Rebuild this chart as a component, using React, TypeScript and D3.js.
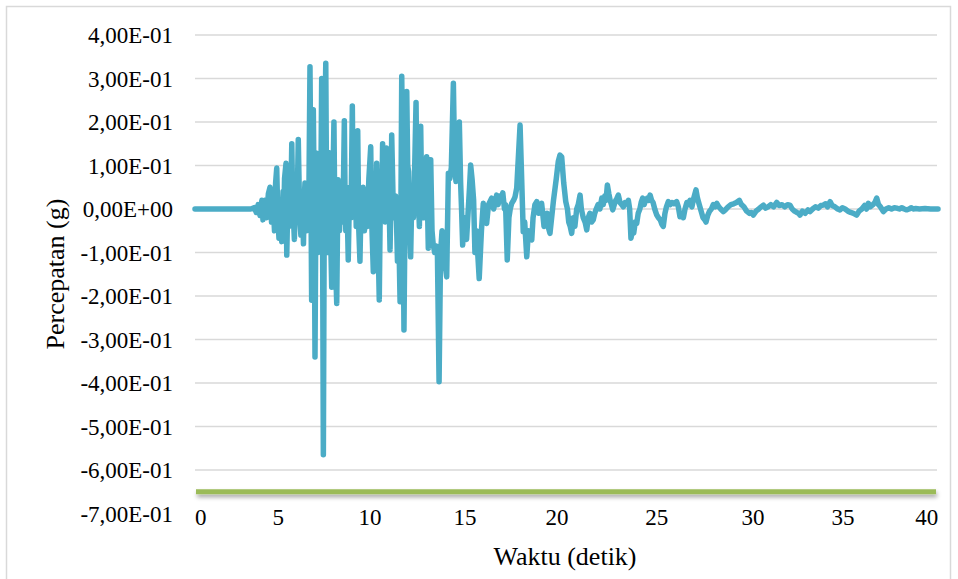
import React from "react";
import * as d3 from "d3";

// ---- data (time in s, acceleration in g) ----
const quietAndOnset: [number, number][] = [
  [0, 0], [3.0, 0], [3.2, 0.003], [3.3, -0.008], [3.4, 0.01], [3.5, -0.015], [3.6, 0.02], [3.66, -0.025],
  [3.75, 0.02], [3.85, -0.02], [3.95, 0.035], [4.04, 0.05], [4.12, -0.03], [4.2, 0.02], [4.28, -0.05],
  [4.34, 0.06], [4.4, 0.094], [4.46, -0.02], [4.52, -0.067], [4.58, 0.02], [4.63, -0.04], [4.67, -0.075],
  [4.74, 0.04], [4.78, -0.02], [4.82, 0.07], [4.9, 0.105], [4.94, -0.106], [5.0, 0.02], [5.03, -0.02],
  [5.06, -0.04], [5.12, 0.05], [5.16, 0.02], [5.21, 0.15], [5.25, 0.04], [5.28, 0.0], [5.35, -0.07],
  [5.42, 0.04], [5.45, -0.01], [5.48, -0.03], [5.52, 0.06], [5.56, 0.16], [5.62, 0.02], [5.66, -0.03],
  [5.7, -0.06], [5.76, 0.03], [5.8, -0.02], [5.84, -0.08], [5.88, 0.02], [5.92, 0.06], [5.96, 0.0],
  [6.0, -0.05], [6.04, 0.02], [6.08, 0.06], [6.12, -0.03],
];

const strongMotion: [number, number][] = [
  [6.19, 0.327], [6.24, 0.05], [6.28, -0.21], [6.32, 0.03], [6.37, 0.228], [6.42, 0.0], [6.46, -0.34],
  [6.5, -0.05], [6.55, 0.128], [6.62, -0.1], [6.66, 0.02], [6.7, 0.06], [6.76, -0.05], [6.82, 0.3],
  [6.86, 0.05], [6.91, -0.565], [6.97, 0.12], [7.04, 0.335], [7.08, 0.05], [7.12, -0.1], [7.2, 0.13],
  [7.24, 0.04], [7.28, -0.02], [7.36, -0.18], [7.42, 0.05], [7.48, 0.2], [7.52, 0.02], [7.55, -0.1],
  [7.63, -0.217], [7.7, 0.067], [7.74, 0.0], [7.78, -0.05], [7.86, 0.06], [7.9, 0.0], [7.94, -0.03],
  [7.99, 0.05], [8.04, 0.203], [8.08, 0.02], [8.12, -0.05], [8.18, 0.03], [8.25, -0.117], [8.3, 0.0],
  [8.34, 0.05], [8.4, -0.02], [8.47, 0.237], [8.51, 0.05], [8.55, 0.0], [8.62, 0.1], [8.68, -0.04],
  [8.76, 0.18], [8.82, -0.05], [8.88, -0.12], [8.92, -0.03], [8.96, 0.0], [9.05, 0.05], [9.12, -0.05],
  [9.2, 0.02], [9.28, -0.04], [9.36, 0.07], [9.46, 0.143], [9.5, 0.0], [9.53, -0.05], [9.6, -0.144],
  [9.64, -0.03], [9.68, 0.02], [9.73, -0.02], [9.78, 0.105], [9.85, -0.06], [9.92, -0.209], [9.96, -0.05],
  [10.0, 0.05], [10.05, -0.02], [10.1, 0.15], [10.14, 0.05], [10.18, 0.0], [10.24, -0.03], [10.3, 0.14],
  [10.38, 0.02], [10.44, 0.04], [10.5, -0.094], [10.55, 0.02], [10.59, 0.17], [10.66, 0.03], [10.72, -0.02],
  [10.8, 0.03], [10.85, -0.03], [10.9, -0.12], [10.97, -0.05], [11.04, -0.213], [11.09, 0.03],
  [11.13, 0.305], [11.2, 0.0], [11.25, -0.278], [11.32, 0.05], [11.36, 0.02], [11.4, 0.27], [11.45, 0.1],
  [11.5, 0.086], [11.55, -0.03], [11.61, -0.11], [11.68, 0.05], [11.72, 0.0], [11.76, -0.02], [11.82, 0.08],
  [11.9, 0.245], [11.96, 0.0], [12.02, 0.03], [12.08, -0.04], [12.15, 0.19], [12.22, -0.02], [12.28, 0.05],
  [12.34, -0.02], [12.4, 0.03], [12.47, 0.12], [12.52, 0.0], [12.56, -0.09], [12.62, 0.0], [12.69, 0.113],
  [12.76, -0.05], [12.82, -0.08], [12.9, -0.1], [12.98, -0.085], [13.05, -0.1], [13.14, -0.397],
  [13.22, -0.1], [13.3, -0.05], [13.38, -0.09], [13.45, -0.12], [13.55, -0.156], [13.64, 0.082],
  [13.72, 0.07], [13.8, 0.095], [13.91, 0.289], [13.98, 0.1], [14.05, 0.063], [14.12, 0.08], [14.23, 0.2],
  [14.3, 0.06], [14.35, 0.0], [14.41, -0.083], [14.48, -0.033], [14.55, -0.02], [14.62, -0.07],
  [14.7, -0.01], [14.78, 0.05], [14.84, 0.101], [14.92, 0.067], [15.0, 0.02], [15.07, -0.1], [15.15, -0.05],
  [15.3, -0.16],
];

const coda: [number, number][] = [
  [15.42, -0.05], [15.52, 0.013], [15.6, -0.02], [15.7, -0.033], [15.8, 0.01], [15.97, 0.025], [16.08, 0.0],
  [16.16, 0.015], [16.24, 0.032], [16.32, 0.01], [16.4, 0.03], [16.48, 0.02], [16.57, 0.037], [16.66, 0.0],
  [16.72, 0.01], [16.81, -0.117], [16.9, -0.02], [16.97, 0.0], [17.05, 0.013], [17.15, 0.02], [17.23, 0.028],
  [17.32, 0.048], [17.5, 0.193], [17.6, 0.05], [17.67, -0.052], [17.75, -0.03], [17.86, -0.11], [17.95, -0.05],
  [18.02, -0.06], [18.13, -0.071], [18.2, -0.02], [18.3, 0.01], [18.4, 0.017], [18.5, -0.01], [18.58, 0.005],
  [18.66, 0.013], [18.72, -0.01], [18.79, -0.04], [18.88, -0.02], [18.96, -0.01], [19.04, -0.045], [19.11, -0.056],
  [19.2, -0.02], [19.3, 0.02], [19.45, 0.07], [19.56, 0.11], [19.65, 0.124], [19.74, 0.12], [19.85, 0.06],
  [19.96, 0.017], [20.05, 0.0], [20.12, -0.03], [20.2, -0.04], [20.28, -0.056], [20.36, -0.02], [20.45, -0.04],
  [20.55, 0.0], [20.63, 0.01], [20.73, 0.032], [20.8, 0.0], [20.9, -0.02], [21.0, -0.03], [21.09, -0.048],
  [21.17, -0.02], [21.26, -0.01], [21.35, -0.03], [21.44, -0.025], [21.52, -0.01], [21.6, 0.0], [21.7, 0.01],
  [21.8, 0.0], [21.9, 0.025], [21.98, 0.01], [22.06, 0.03], [22.13, 0.02], [22.2, 0.055], [22.28, 0.035],
  [22.35, 0.02], [22.42, 0.01], [22.49, -0.002], [22.57, 0.01], [22.65, 0.02], [22.72, 0.025], [22.79, 0.032],
  [22.88, 0.015], [22.97, 0.01], [23.06, 0.005], [23.15, 0.015], [23.25, 0.012], [23.33, 0.02], [23.4, 0.0],
  [23.47, -0.067], [23.55, -0.05], [23.62, -0.055], [23.7, -0.03], [23.78, -0.033], [23.86, -0.01], [23.95, 0.0],
  [24.02, 0.015], [24.1, 0.025], [24.18, 0.01], [24.26, 0.02], [24.35, 0.025], [24.42, 0.02], [24.5, 0.032],
  [24.58, 0.02], [24.66, 0.015], [24.75, 0.0], [24.86, -0.014], [24.95, -0.02], [25.05, -0.025], [25.13, -0.035],
  [25.21, -0.04], [25.3, -0.01], [25.38, 0.005], [25.48, 0.017], [25.58, 0.01], [25.68, 0.015], [25.8, 0.012],
  [25.93, 0.017], [26.02, 0.005], [26.11, -0.018], [26.2, -0.01], [26.29, -0.02], [26.38, 0.0], [26.48, 0.015],
  [26.56, 0.01], [26.65, 0.02], [26.75, 0.005], [26.85, 0.025], [26.97, 0.044], [27.05, 0.025], [27.15, 0.01],
  [27.25, -0.005], [27.35, -0.02], [27.45, -0.025], [27.51, -0.03], [27.6, -0.015], [27.7, -0.005], [27.8, 0.0],
  [27.9, 0.01], [28.0, 0.005], [28.09, 0.013], [28.2, 0.005], [28.3, 0.0], [28.44, -0.006], [28.55, -0.002],
  [28.7, 0.005], [28.85, 0.01], [29.0, 0.012], [29.15, 0.015], [29.3, 0.02], [29.42, 0.01], [29.55, 0.005],
  [29.7, -0.005], [29.85, -0.01], [29.95, -0.008], [30.06, -0.014], [30.2, -0.005], [30.35, 0.0], [30.48, 0.005],
  [30.6, 0.009], [30.72, 0.002], [30.85, 0.005], [31.0, 0.01], [31.15, 0.005], [31.32, 0.015], [31.45, 0.008],
  [31.6, 0.01], [31.75, 0.005], [31.9, 0.01], [32.03, 0.009], [32.15, 0.0], [32.28, -0.005], [32.4, -0.008],
  [32.5, -0.01], [32.57, -0.014], [32.7, -0.005], [32.85, -0.01], [33.0, -0.002], [33.11, -0.006], [33.25, 0.0],
  [33.4, 0.005], [33.55, 0.002], [33.7, 0.008], [33.82, 0.009], [33.95, 0.012], [34.05, 0.005], [34.19, 0.017],
  [34.3, 0.008], [34.45, 0.005], [34.6, 0.0], [34.72, -0.002], [34.85, 0.003], [35.0, 0.0], [35.15, -0.005],
  [35.3, -0.008], [35.45, -0.01], [35.62, -0.014], [35.75, -0.005], [35.9, 0.0], [36.05, 0.008], [36.15, 0.0],
  [36.25, 0.013], [36.35, 0.005], [36.5, 0.01], [36.6, 0.015], [36.7, 0.025], [36.8, 0.01], [36.9, 0.005],
  [37.06, -0.006], [37.2, 0.0], [37.35, 0.003], [37.5, 0.0], [37.65, 0.003], [37.78, 0.002], [37.92, 0.0],
  [38.05, 0.003], [38.18, 0.0], [38.31, -0.002], [38.45, 0.0], [38.55, 0.003], [38.67, 0.0], [38.8, 0.001],
  [39.0, 0.0], [39.3, 0.001], [39.6, 0.0], [40.0, 0.0],
];

const baselineValue = -0.65; // green horizontal series

const yTicks = [0.4, 0.3, 0.2, 0.1, 0, -0.1, -0.2, -0.3, -0.4, -0.5, -0.6, -0.7];
const yTickLabels = [
  "4,00E-01", "3,00E-01", "2,00E-01", "1,00E-01", "0,00E+00", "-1,00E-01",
  "-2,00E-01", "-3,00E-01", "-4,00E-01", "-5,00E-01", "-6,00E-01", "-7,00E-01",
];
const xTickLabels = ["0", "5", "10", "15", "20", "25", "30", "35", "40"];
const xTickAt = [0.31, 4.48, 9.42, 14.54, 19.49, 24.86, 30.04, 34.89, 39.39];

const W = 958;
const H = 579;
const FONT = "'Liberation Serif', 'Times New Roman', serif";

export default function App() {
  const data = [...quietAndOnset, ...strongMotion, ...coda];
  const x = d3.scaleLinear().domain([0, 40]).range([195, 938]);
  const y = d3.scaleLinear().domain([-0.7, 0.4]).range([513.5, 35]);
  const line = d3
    .line<[number, number]>()
    .x((d) => x(d[0]))
    .y((d) => y(d[1]));
  const gridX0 = x(0);
  const gridX1 = x(40) - 1;
  const greenY = y(baselineValue);

  return (
    <svg
      width={W}
      height={H}
      style={{ position: "absolute", left: 0, top: 0, background: "#fff" }}
    >
      <defs>
        <filter id="shadow" filterUnits="userSpaceOnUse" x={150} y={470} width={820} height={50}>
          <feDropShadow dx="1" dy="3" stdDeviation="2" floodColor="#000" floodOpacity="0.35" />
        </filter>
      </defs>
      <rect x={6.5} y={6.5} width={944} height={600} fill="#fff" stroke="#d9d9d9" strokeWidth={1.5} />
      {yTicks
        .filter((v) => v > -0.65)
        .map((v) => (
          <line key={v} x1={gridX0} x2={gridX1} y1={y(v)} y2={y(v)} stroke="#d9d9d9" strokeWidth={1.5} />
        ))}
      {yTicks.map((v, i) => (
        <text
          key={"yl" + v}
          x={173}
          y={y(v) + 8}
          textAnchor="end"
          fontFamily={FONT}
          fontSize={23}
          fill="#000"
        >
          {yTickLabels[i]}
        </text>
      ))}
      {xTickLabels.map((t, i) => (
        <text
          key={"xl" + t}
          x={x(xTickAt[i])}
          y={y(-0.7) + 11.5}
          textAnchor="middle"
          fontFamily={FONT}
          fontSize={23}
          fill="#000"
        >
          {t}
        </text>
      ))}
      <rect
        x={x(0) + 1}
        width={x(40) - x(0) - 3}
        y={greenY - 2.5}
        height={5}
        fill="#9bbb59"
        filter="url(#shadow)"
      />
      <path
        d={line(data) || ""}
        fill="none"
        stroke="#4bacc6"
        strokeWidth={5.5}
        strokeLinejoin="round"
        strokeLinecap="round"
      />
      <text
        x={565}
        y={565}
        textAnchor="middle"
        fontFamily={FONT}
        fontSize={26}
        fill="#000"
      >
        Waktu (detik)
      </text>
      <text
        transform={`translate(64,274) rotate(-90)`}
        textAnchor="middle"
        fontFamily={FONT}
        fontSize={26}
        fill="#000"
      >
        Percepatan (g)
      </text>
    </svg>
  );
}
